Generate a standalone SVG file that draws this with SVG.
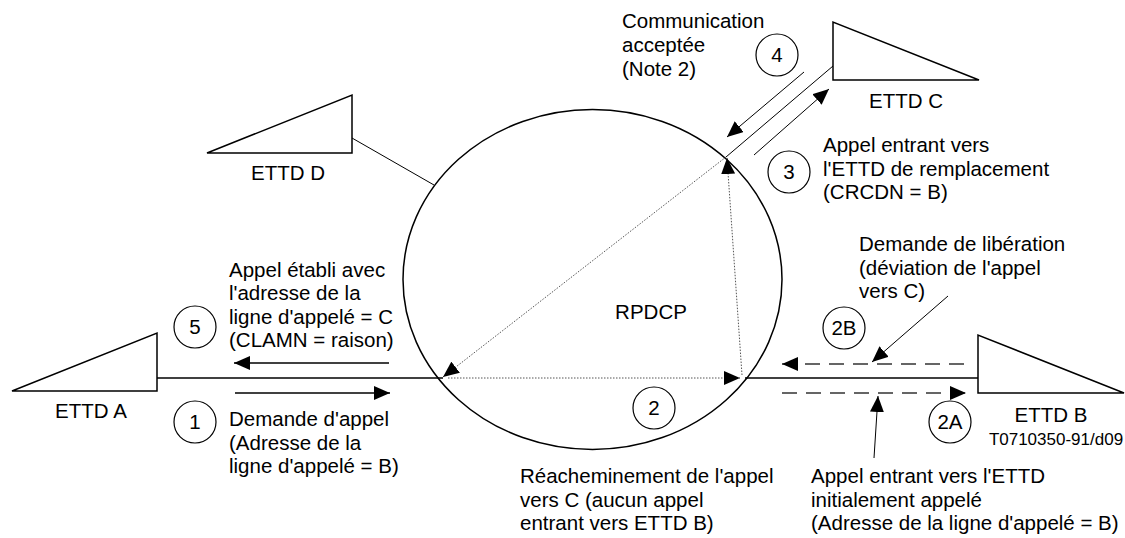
<svg xmlns="http://www.w3.org/2000/svg" width="1125" height="538" viewBox="0 0 1125 538">
  <style>
    text { font-family: "Liberation Sans", Arial, sans-serif; font-size: 20.5px; fill: #000; }
    .mid { text-anchor: middle; }
    .ref { font-size: 17px; }
    .shape { fill: #fff; stroke: #000; stroke-width: 1.5; }
    .num { fill: #fff; stroke: #000; stroke-width: 1.2; }
    .line { fill: none; stroke: #000; stroke-width: 1.5; }
    .thin { fill: none; stroke: #000; stroke-width: 1; }
    .dot { fill: none; stroke: #555; stroke-width: 1; stroke-dasharray: 1.5 1.5; }
    .dash { fill: none; stroke: #333; stroke-width: 1.5; stroke-dasharray: 15 9; }
  </style>
  <defs>
    <marker id="head" markerUnits="userSpaceOnUse" markerWidth="16" markerHeight="14" refX="16" refY="7" orient="auto">
      <path d="M0,0 L16,7 L0,14 z" fill="#000"/>
    </marker>
  </defs>

  <rect width="1125" height="538" fill="#fff"/>

  <!-- network cloud -->
  <g id="rpdcp">
    <ellipse class="shape" cx="592.5" cy="279.5" rx="189.5" ry="170"/>
    <text class="mid" x="651" y="319">RPDCP</text>
  </g>

  <!-- terminals -->
  <g id="ettd-a">
    <path class="shape" d="M12,391 L157,333 L157,391 Z"/>
    <text class="mid" x="91" y="418">ETTD A</text>
  </g>
  <g id="ettd-b">
    <path class="shape" d="M978,335 L978,393 L1124,393 Z"/>
    <text class="mid" x="1051" y="422">ETTD B</text>
    <text class="mid ref" x="1056" y="445">T0710350-91/d09</text>
  </g>
  <g id="ettd-c">
    <path class="shape" d="M833,22 L833,80 L979,80 Z"/>
    <text class="mid" x="906" y="108">ETTD C</text>
  </g>
  <g id="ettd-d">
    <path class="shape" d="M207,153 L352,95 L352,153 Z"/>
    <text class="mid" x="288" y="180">ETTD D</text>
  </g>

  <!-- connectors -->
  <g id="connectors">
    <!-- access lines -->
    <line class="line" x1="157" y1="378" x2="443" y2="378"/>
    <line class="line" x1="745" y1="378" x2="978" y2="378"/>
    <line class="thin" x1="352" y1="138" x2="434" y2="185"/>
    <line class="thin" x1="833" y1="66" x2="726" y2="157"/>

    <!-- step arrows on access lines -->
    <line class="line" x1="389" y1="363" x2="234" y2="363" marker-end="url(#head)"/>
    <line class="line" x1="235" y1="393" x2="390" y2="393" marker-end="url(#head)"/>
    <line class="thin" x1="804" y1="72" x2="727" y2="137" marker-end="url(#head)"/>
    <line class="thin" x1="754" y1="155" x2="829" y2="89" marker-end="url(#head)"/>
    <line class="dash" x1="964" y1="364" x2="782" y2="364" marker-end="url(#head)"/>
    <line class="dash" x1="782" y1="393" x2="966" y2="393" marker-end="url(#head)"/>

    <!-- label pointers -->
    <line class="thin" x1="948" y1="296" x2="872" y2="362" marker-end="url(#head)"/>
    <line class="thin" x1="874" y1="458" x2="878" y2="396" marker-end="url(#head)"/>

    <!-- paths inside the network -->
    <line class="dot" x1="448" y1="378" x2="740" y2="378" marker-end="url(#head)"/>
    <line class="dot" x1="742" y1="375" x2="727" y2="158" marker-end="url(#head)"/>
    <line class="dot" x1="726" y1="157" x2="443" y2="377" marker-end="url(#head)"/>
  </g>

  <!-- step labels -->
  <g id="step-1">
    <circle class="num" cx="195" cy="422" r="21"/>
    <text class="mid" x="195" y="429">1</text>
    <text x="229" y="426">Demande d'appel</text>
    <text x="229" y="449.5">(Adresse de la</text>
    <text x="229" y="473">ligne d'appelé = B)</text>
  </g>
  <g id="step-2">
    <circle class="num" cx="654" cy="408" r="21"/>
    <text class="mid" x="654" y="415">2</text>
    <text x="520" y="483">Réacheminement de l'appel</text>
    <text x="520" y="506.5">vers C (aucun appel</text>
    <text x="520" y="530">entrant vers ETTD B)</text>
  </g>
  <g id="step-2a">
    <circle class="num" cx="950" cy="422" r="21"/>
    <text class="mid" x="950" y="429">2A</text>
    <text x="811" y="483">Appel entrant vers l'ETTD</text>
    <text x="811" y="506.5">initialement appelé</text>
    <text x="811" y="530">(Adresse de la ligne d'appelé = B)</text>
  </g>
  <g id="step-2b">
    <circle class="num" cx="844" cy="328" r="21"/>
    <text class="mid" x="844" y="335">2B</text>
    <text x="859" y="251">Demande de libération</text>
    <text x="859" y="274.5">(déviation de l'appel</text>
    <text x="859" y="298">vers C)</text>
  </g>
  <g id="step-3">
    <circle class="num" cx="789" cy="172" r="21"/>
    <text class="mid" x="789" y="179">3</text>
    <text x="823" y="152">Appel entrant vers</text>
    <text x="823" y="175.5">l'ETTD de remplacement</text>
    <text x="823" y="199">(CRCDN = B)</text>
  </g>
  <g id="step-4">
    <circle class="num" cx="777" cy="55" r="21"/>
    <text class="mid" x="777" y="62">4</text>
    <text x="622" y="28">Communication</text>
    <text x="622" y="52">acceptée</text>
    <text x="622" y="76">(Note 2)</text>
  </g>
  <g id="step-5">
    <circle class="num" cx="195" cy="327" r="21"/>
    <text class="mid" x="195" y="334">5</text>
    <text x="229" y="276.5">Appel établi avec</text>
    <text x="229" y="300">l'adresse de la</text>
    <text x="229" y="323.5">ligne d'appelé = C</text>
    <text x="229" y="347">(CLAMN = raison)</text>
  </g>
</svg>
